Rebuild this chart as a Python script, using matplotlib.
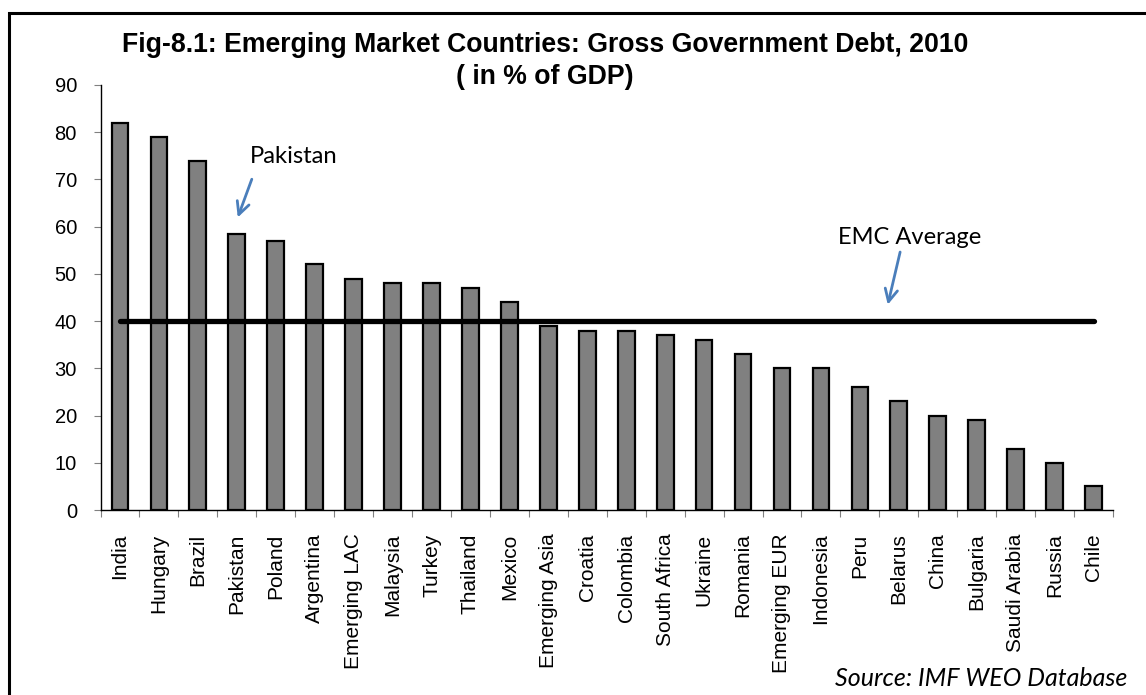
import matplotlib
matplotlib.use('Agg')
import matplotlib.pyplot as plt
from matplotlib.patches import Rectangle
from matplotlib.ticker import FixedLocator, NullFormatter

# ── Data ──────────────────────────────────────────────────────────────
countries = ['India', 'Hungary', 'Brazil', 'Pakistan', 'Poland', 'Argentina',
             'Emerging LAC', 'Malaysia', 'Turkey', 'Thailand', 'Mexico',
             'Emerging Asia', 'Croatia', 'Colombia', 'South Africa', 'Ukraine',
             'Romania', 'Emerging EUR', 'Indonesia', 'Peru', 'Belarus', 'China',
             'Bulgaria', 'Saudi Arabia', 'Russia', 'Chile']
debt = [82, 79, 74, 58.5, 57, 52, 49, 48, 48, 47, 44, 39, 38, 38, 37, 36,
        33, 30, 30, 26, 23, 20, 19, 13, 10, 5]
emc_average = [40] * len(countries)
yticks = [0, 10, 20, 30, 40, 50, 60, 70, 80, 90]

W, H = 1146, 695
fig = plt.figure(figsize=(W / 100, H / 100), dpi=100)
fig.patch.set_facecolor('white')

# axes placed in pixel terms
left, right, bottom, top = 100.5, 1113, 510, 85
ax = fig.add_axes([left / W, 1 - bottom / H, (right - left) / W, (bottom - top) / H])

x = list(range(len(countries)))
ax.bar(x, debt, width=0.43, color='#808080', edgecolor='black', linewidth=1.6, zorder=2)
ax.plot(x, emc_average, color='black', linewidth=3.8, solid_capstyle='round', zorder=3)

ax.set_xlim(-0.5, len(countries) - 0.5)
ax.set_ylim(0, 90)
ax.set_yticks(yticks)
ax.set_yticklabels([str(v) for v in yticks], family='Liberation Sans', fontsize=14.5)

# labels at centres, tick marks at category boundaries
ax.xaxis.set_major_locator(FixedLocator([i - 0.5 for i in range(len(countries) + 1)]))
ax.xaxis.set_major_formatter(NullFormatter())
ax.xaxis.set_minor_locator(FixedLocator(x))
ax.set_xticklabels(countries, minor=True, rotation=90, family='Liberation Sans',
                   fontsize=15, va='top', ha='center')
ax.tick_params(axis='x', which='minor', length=0, pad=17)
ax.tick_params(axis='x', which='major', length=5, width=0.8, color='#808080')
ax.tick_params(axis='y', length=5, width=0.8, color='#808080', pad=12)

for s in ['top', 'right']:
    ax.spines[s].set_visible(False)
for s in ['left', 'bottom']:
    ax.spines[s].set_linewidth(1.0)
    ax.spines[s].set_color('black')

# ── Title ─────────────────────────────────────────────────────────────
fig.text(545 / W, 1 - 45 / H, 'Fig-8.1: Emerging Market Countries: Gross Government Debt, 2010',
         ha='center', va='center', fontsize=19.2, fontweight='bold', family='Liberation Sans')
fig.text(545 / W, 1 - 77 / H, '( in % of GDP)',
         ha='center', va='center', fontsize=19.2, fontweight='bold', family='Liberation Sans')

# ── Annotations ───────────────────────────────────────────────────────
blue = '#4a7ebb'
ax.annotate('', xy=(3.0, 61.4), xytext=(3.41, 70.6),
            arrowprops=dict(arrowstyle='->,head_length=0.9,head_width=0.45',
                            color=blue, lw=2.0))
ax.text(3.34, 74.8, 'Pakistan', family='Lato', fontsize=17.2, ha='left', va='center')

ax.annotate('', xy=(19.7, 42.9), xytext=(20.05, 55.2),
            arrowprops=dict(arrowstyle='->,head_length=0.9,head_width=0.45',
                            color=blue, lw=2.0))
ax.text(18.44, 57.6, 'EMC Average', family='Lato', fontsize=17, ha='left', va='center')

fig.text(1127 / W, 1 - 678 / H, 'Source: IMF WEO Database', ha='right', va='center',
         family='Lato', style='italic', fontsize=18)

# figure border (left and top edges visible)
fig.patches.append(Rectangle((8.5 / W, -0.05), 1.1, 1.05 - 13 / H,
                             transform=fig.transFigure, fill=False,
                             edgecolor='black', linewidth=2.2))

fig.savefig('out.png', dpi=100, facecolor='white')
